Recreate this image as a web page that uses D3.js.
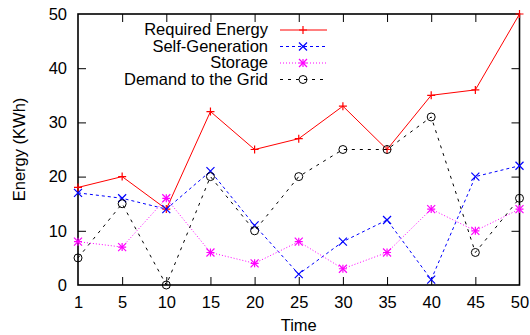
<!DOCTYPE html>
<html><head><meta charset="utf-8">
<script src="https://cdn.jsdelivr.net/npm/d3@7"></script>
<style>body{margin:0;background:#fff}svg{display:block}text{font-family:"Liberation Sans",Arial,sans-serif}</style>
</head><body><svg id="c" width="530" height="335"></svg>
<script>
const categories = [1,5,10,15,20,25,30,35,40,45,50];
const requiredEnergy = [18,20,14,32,25,27,33,25,35,36,50];
const selfGeneration = [17,16,14,21,11,2,8,12,1,20,22];
const storage = [8,7,16,6,4,8,3,6,14,10,14];
const demandGrid = [5,15,0,20,10,20,25,25,31,6,16];
const yTicks = [0,10,20,30,40,50];
const seriesNames = ["Required Energy","Self-Generation","Storage","Demand to the Grid"];

const svg = d3.select("#c");
const L=78, R=519.5, T=14, B=285;
const x = d3.scalePoint().domain(categories).range([L,R]);
const y = d3.scaleLinear().domain([0,50]).range([B,T]);

const series = [
  {name:seriesNames[0], vals:requiredEnergy, color:"#ff0000", dash:null, marker:"plus"},
  {name:seriesNames[1], vals:selfGeneration, color:"#0000ff", dash:"3,3", marker:"cross"},
  {name:seriesNames[2], vals:storage, color:"#ff00ff", dash:"1,2", marker:"star"},
  {name:seriesNames[3], vals:demandGrid, color:"#000000", dash:"3,5", marker:"circle"}
];

const fs = 16.5;
const ax = svg.append("g");
const xAxis = d3.axisBottom(x).tickSize(-8).tickPadding(12);
const gx = ax.append("g").attr("transform",`translate(0,${B})`).call(xAxis);
const xTop = d3.axisTop(x).tickSize(-8).tickFormat("");
const gxt = ax.append("g").attr("transform",`translate(0,${T})`).call(xTop);
const yAxis = d3.axisLeft(y).tickValues(yTicks).tickSize(-8).tickPadding(11);
const gy = ax.append("g").attr("transform",`translate(${L},0)`).call(yAxis);
const yRight = d3.axisRight(y).tickValues(yTicks).tickSize(-8).tickFormat("");
const gyr = ax.append("g").attr("transform",`translate(${R},0)`).call(yRight);
[gx,gxt,gy,gyr].forEach(g=>{
  g.select(".domain").remove();
  g.selectAll(".tick line").attr("stroke","#000").attr("stroke-width",1);
  g.selectAll(".tick text").attr("font-size",fs).attr("fill","#000").attr("font-family","Liberation Sans, Arial, sans-serif");
});
gx.selectAll(".tick text").attr("dy","0.68em");
gx.selectAll(".tick line").filter(d=>d===categories[0]||d===categories[categories.length-1]).remove();
gxt.selectAll(".tick line").filter(d=>d===categories[0]||d===categories[categories.length-1]).remove();
gy.selectAll(".tick line").filter(d=>d===0||d===50).remove();
gyr.selectAll(".tick line").filter(d=>d===0||d===50).remove();
svg.append("rect").attr("x",L).attr("y",T).attr("width",R-L).attr("height",B-T)
  .attr("fill","none").attr("stroke","#000").attr("stroke-width",1.6);

svg.append("text").attr("x",(L+R)/2).attr("y",331).attr("text-anchor","middle").attr("font-size",fs).text("Time");
svg.append("text").attr("transform",`translate(25,${(T+B)/2}) rotate(-90)`).attr("text-anchor","middle").attr("font-size",fs).text("Energy (KWh)");

function drawMarker(g, type, cx, cy, color){
  const s=4;
  if(type==="plus"||type==="star"){
    g.append("path").attr("d",`M${cx-s},${cy}H${cx+s}M${cx},${cy-s}V${cy+s}`).attr("stroke",color).attr("stroke-width",1.2).attr("fill","none");
  }
  if(type==="cross"||type==="star"){
    g.append("path").attr("d",`M${cx-s},${cy-s}L${cx+s},${cy+s}M${cx-s},${cy+s}L${cx+s},${cy-s}`).attr("stroke",color).attr("stroke-width",1.2).attr("fill","none");
  }
  if(type==="circle"){
    g.append("circle").attr("cx",cx).attr("cy",cy).attr("r",4).attr("stroke",color).attr("stroke-width",1).attr("fill","none");
  }
}

const line = d3.line().x((d,i)=>x(categories[i])).y(d=>y(d));
const plot = svg.append("g");
series.forEach(s=>{
  plot.append("path").attr("d",line(s.vals)).attr("fill","none").attr("stroke",s.color)
    .attr("stroke-width",1).attr("stroke-dasharray",s.dash);
  s.vals.forEach((v,i)=>drawMarker(plot,s.marker,x(categories[i]),y(v),s.color));
});

const lg = svg.append("g");
series.forEach((s,i)=>{
  const by = 35 + i*16.5;
  const cy = by - 5;
  lg.append("text").attr("x",268).attr("y",by).attr("text-anchor","end").attr("font-size",fs).text(s.name);
  lg.append("line").attr("x1",280).attr("x2",327).attr("y1",cy).attr("y2",cy)
    .attr("stroke",s.color).attr("stroke-width",1).attr("stroke-dasharray",s.dash);
  drawMarker(lg,s.marker,303,cy,s.color);
});
</script></body></html>
